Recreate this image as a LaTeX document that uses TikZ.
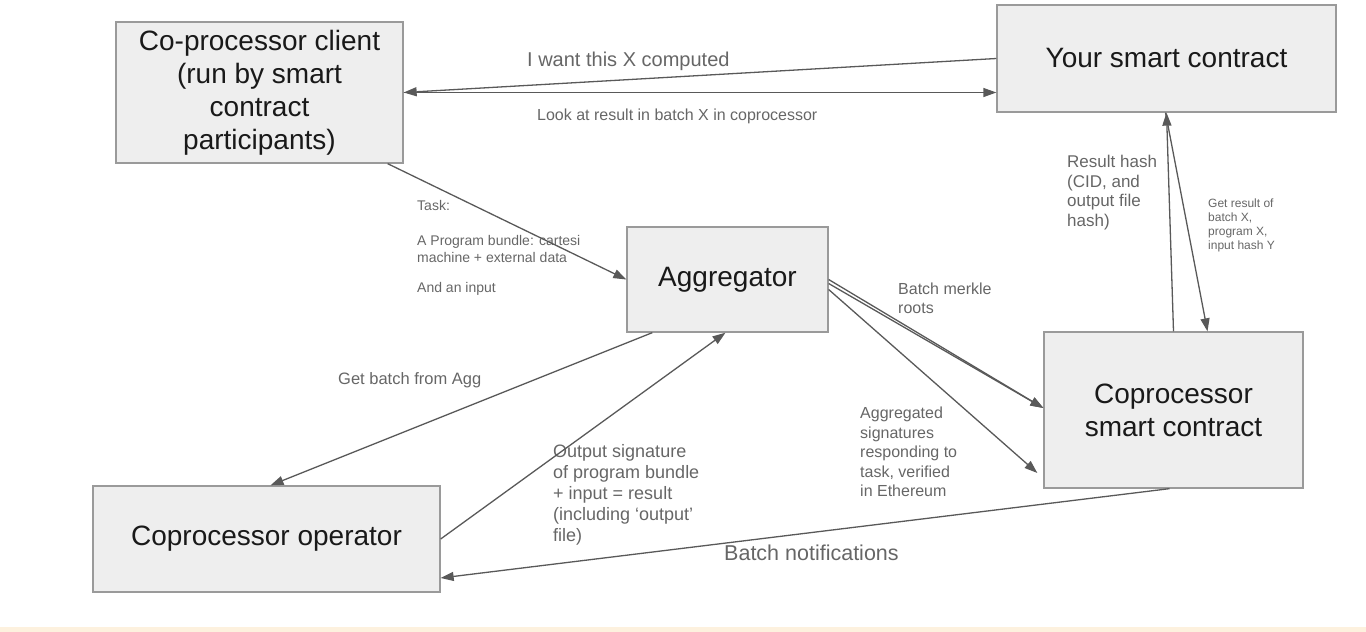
\documentclass[tikz,border=0pt]{standalone}
\usepackage{fontspec}
\setmainfont{Liberation Sans}
\usetikzlibrary{arrows.meta}

\definecolor{boxfill}{HTML}{EEEEEE}
\definecolor{boxline}{HTML}{9A9A9A}
\definecolor{arrowgray}{HTML}{595959}
\definecolor{labelgray}{HTML}{666666}
\definecolor{notebar}{HTML}{FDF1DE}

\tikzset{
  block/.style={draw=boxline, fill=boxfill, line width=1.3pt, align=center,
    inner sep=0pt, text=black!90, font=\fontsize{28}{33}\selectfont},
  link/.style={draw=arrowgray, line width=1.3pt,
    -{Triangle[length=13pt,width=9pt]}},
  note/.style={text=labelgray, anchor=west, align=left, inner sep=0pt},
}

\begin{document}
\begin{tikzpicture}[x=1pt,y=-1pt]
    \useasboundingbox (0,0) rectangle (1366,632);
    \fill[notebar] (0,627) rectangle (1366,632);

    % boxes
    \node[block, minimum width=287pt, minimum height=141pt] (client) at (259.5,92.5)
        {Co-processor client\\(run by smart\\contract\\participants)};
    \node[block, minimum width=339pt, minimum height=107pt] (yoursc) at (1166.5,58.5)
        {Your smart contract};
    \node[block, minimum width=201pt, minimum height=105pt] (agg) at (727.5,279.5)
        {Aggregator};
    \node[block, minimum width=259pt, minimum height=156pt] (copsc) at (1173.5,410)
        {Coprocessor\\smart contract};
    \node[block, minimum width=347pt, minimum height=106pt] (oper) at (266.5,539)
        {Coprocessor operator};

    % labels
    \node[note, font=\fontsize{20}{24}\selectfont] (want) at (527,61) {I want this X computed};
    \node[note, font=\fontsize{16}{20}\selectfont] (look) at (537,116)
        {Look at result in batch X in coprocessor};
    \node[note, font=\fontsize{14}{17}\selectfont] (task) at (417,205) {Task:};
    \node[note, font=\fontsize{14}{17}\selectfont] (bundle) at (417,248.5)
        {A Program bundle: cartesi\\machine + external data};
    \node[note, font=\fontsize{14}{17}\selectfont] (input) at (417,289) {And an input};
    \node[note, font=\fontsize{16.5}{20}\selectfont] (getbatch) at (338,380) {Get batch from Agg};
    \node[note, font=\fontsize{18}{21}\selectfont] (outsig) at (553,494.5)
        {Output signature\\of program bundle\\+ input = result\\(including `output'\\file)};
    \node[note, font=\fontsize{16}{19}\selectfont] (merkle) at (898,298.5)
        {Batch merkle\\roots};
    \node[note, font=\fontsize{16}{19.5}\selectfont] (aggsig) at (860,452)
        {Aggregated\\signatures\\responding to\\task, verified\\in Ethereum};
    \node[note, font=\fontsize{17}{19.5}\selectfont] (reshash) at (1067,192.5)
        {Result hash\\(CID, and\\output file\\hash)};
    \node[note, font=\fontsize{12}{14}\selectfont] (getres) at (1208,225)
        {Get result of\\batch X,\\program X,\\input hash Y};
    \node[note, font=\fontsize{21.5}{24}\selectfont] (notif) at (724,553) {Batch notifications};

    % connectors
    \draw[link] (yoursc.west) -- (client.east);
    \draw[link] (client.east) -- ([yshift=-34pt]yoursc.west);
    \draw[link] ([xshift=-16pt]client.south east) -- (agg.west);
    \draw[link] ([xshift=26pt]agg.south west) -- ([xshift=4pt]oper.north);
    \draw[link] (oper.east) -- ([xshift=-2pt]agg.south);
    \draw[link] (agg.east) -- ([yshift=2pt]copsc.west);
    \draw[link] ([yshift=-4pt]agg.east) -- ([yshift=2pt]copsc.west);
    \draw[link] ([yshift=-10pt]agg.east) -- ([xshift=-6pt,yshift=-63pt]copsc.west);
    \draw[link] (copsc.north) -- (yoursc.south);
    \draw[link] ([xshift=-1pt]yoursc.south) -- ([xshift=34pt]copsc.north);
    \draw[link] ([xshift=-4pt]copsc.south) -- ([yshift=-39pt]oper.east);
\end{tikzpicture}
\end{document}
